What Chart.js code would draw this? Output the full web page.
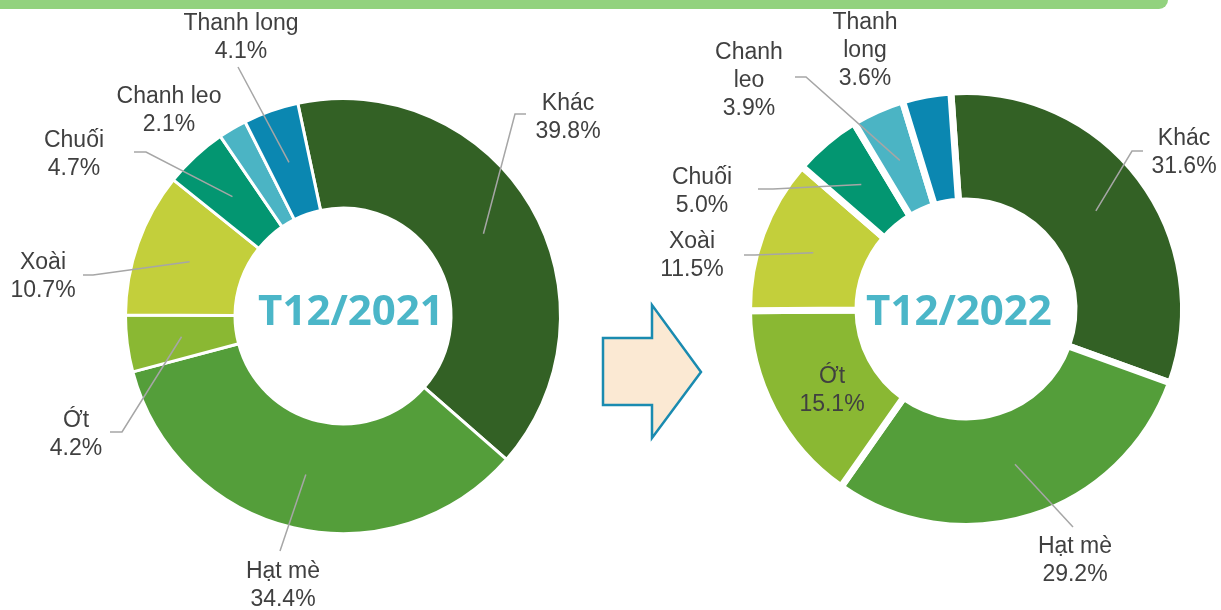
<!DOCTYPE html>
<html>
<head>
<meta charset="utf-8">
<script src="https://cdn.jsdelivr.net/npm/chart.js@4.4.1/dist/chart.umd.min.js"></script>
<style>
body{margin:0;background:#fff;}
.trang{position:relative;width:1221px;height:610px;overflow:hidden;}
.thanhTren{position:absolute;left:0;top:0;width:1168px;height:9px;background:#92d27e;border-bottom-right-radius:9px;}
canvas, svg{position:absolute;left:0;top:0;}
</style>
</head>
<body>
<div class="trang">
  <div class="thanhTren"></div>
  <svg width="1221" height="610">
    <polygon points="603,338 652,338 652,305 701,372 652,438 652,405 603,405"
             fill="#fbe9d3" stroke="#1a8bb0" stroke-width="2.5" stroke-linejoin="miter"/>
  </svg>
  <canvas id="bieuDo1" width="1221" height="610"></canvas>
  <canvas id="bieuDo2" width="1221" height="610"></canvas>
</div>
<script>
// du lieu
const loai = ["Khác", "Hạt mè", "Ớt", "Xoài", "Chuối", "Chanh leo", "Thanh long"];
const tyLe2021 = [39.8, 34.4, 4.2, 10.7, 4.7, 2.1, 4.1];
const tyLe2022 = [31.6, 29.2, 15.1, 11.5, 5.0, 3.9, 3.6];
const ten2022 = ["Khác", "Hạt mè", "Ớt", "Xoài", "Chuối", "Chanh\nleo", "Thanh\nlong"];
const mau = ["#336125", "#549e3a", "#8ab833", "#c3cf3b", "#039671", "#4bb4c4", "#0b87b1"];

// vi tri nhan (x giua, y dong dau) va duong dan
const viTri1 = [
  {x: 568, y: 110, duong: [[526,114],[515,114]]},
  {x: 283, y: 578, duong: [[280,551]]},
  {x: 76,  y: 427, duong: [[110,432],[122,432]]},
  {x: 43,  y: 269, duong: [[83,275],[93,275]]},
  {x: 74,  y: 147, duong: [[134,152],[146,152]]},
  {x: 169, y: 103, duong: []},
  {x: 241, y: 30,  duong: [[238,67]]}
];
const viTri2 = [
  {x: 1184, y: 145, duong: [[1143,151],[1132,151]]},
  {x: 1075, y: 553, duong: [[1073,527]]},
  {x: 832,  y: 383, duong: []},
  {x: 692,  y: 248, duong: [[744,255],[755,255]]},
  {x: 702,  y: 184, duong: [[758,189],[773,189]]},
  {x: 749,  y: 59,  duong: [[795,77],[806,77]]},
  {x: 865,  y: 29,  duong: []}
];

const nhanPlugin = {
  id: 'nhanLat',
  afterDatasetsDraw(chart, args, opts) {
    const ctx = chart.ctx;
    const arcs = chart.getDatasetMeta(0).data;
    const vals = chart.data.datasets[0].data;
    ctx.save();
    ctx.strokeStyle = '#a6a6a6';
    ctx.lineWidth = 1.5;
    arcs.forEach((arc, i) => {
      const n = opts.viTri[i];
      if (!n.duong.length) return;
      const c = arc.getCenterPoint();
      ctx.beginPath();
      ctx.moveTo(n.duong[0][0], n.duong[0][1]);
      n.duong.slice(1).forEach(p => ctx.lineTo(p[0], p[1]));
      ctx.lineTo(c.x, c.y);
      ctx.stroke();
    });
    ctx.fillStyle = '#404040';
    ctx.font = '23px "Liberation Sans", Arial, sans-serif';
    ctx.textAlign = 'center';
    ctx.textBaseline = 'alphabetic';
    arcs.forEach((arc, i) => {
      const n = opts.viTri[i];
      const dong = opts.ten[i].split("\n").concat([vals[i].toFixed(1) + "%"]);
      dong.forEach((d, k) => ctx.fillText(d, n.x, n.y + k * 28));
    });
    const a0 = arcs[0];
    ctx.fillStyle = '#4bb6c8';
    ctx.font = 'bold 42px "Open Sans", sans-serif';
    ctx.fillText(opts.giua, a0.x + opts.dx, a0.y + opts.dy);
    ctx.restore();
  }
};

function veBieuDo(id, giaTri, ten, viTri, giua, o) {
  return new Chart(document.getElementById(id), {
    type: 'doughnut',
    data: {
      labels: loai,
      datasets: [{
        data: giaTri,
        backgroundColor: mau,
        borderColor: '#ffffff',
        borderWidth: o.vien,
        hoverOffset: 0
      }]
    },
    options: {
      responsive: false,
      animation: false,
      devicePixelRatio: 1,
      rotation: o.xoay,
      radius: o.r,
      cutout: o.trong,
      layout: {padding: o.pad},
      events: [],
      plugins: {
        legend: {display: false},
        tooltip: {enabled: false},
        nhanLat: {viTri: viTri, ten: ten, giua: giua, dx: o.dx, dy: o.dy}
      }
    },
    plugins: [nhanPlugin]
  });
}

veBieuDo('bieuDo1', tyLe2021, loai, viTri1, "T12/2021",
  {vien: 3, xoay: -12, r: 217.5, trong: 108.5, pad: {left: 122, right: 657, top: 96, bottom: 74}, dx: 8, dy: 9});
veBieuDo('bieuDo2', tyLe2022, ten2022, viTri2, "T12/2022",
  {vien: 7, xoay: -4, r: 217.5, trong: 107.5, pad: {left: 746, right: 35, top: 89, bottom: 81}, dx: -7, dy: 16});
</script>
</body>
</html>
